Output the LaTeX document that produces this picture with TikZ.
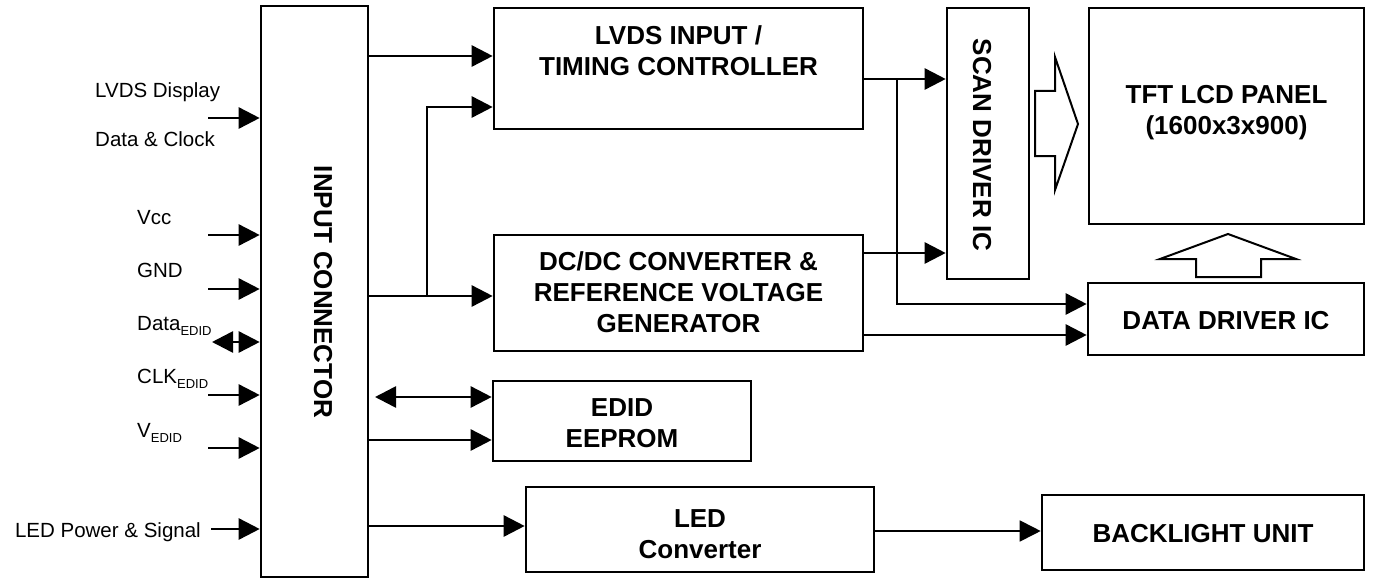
\documentclass[tikz,border=0pt]{standalone}
\usepackage{fontspec}
\setmainfont{Liberation Sans}
\usetikzlibrary{arrows.meta}
\begin{document}
\begin{tikzpicture}[x=1pt,y=-1pt, line join=miter,
 box/.style={draw, line width=2.6pt, inner sep=0pt, minimum width=#1},
 btxt/.style={inner sep=0pt, align=center, font=\fontsize{26}{31}\selectfont\bfseries},
 arr/.style={line width=2.6pt, -{Triangle[length=21pt,width=21pt]}},
 thinarr/.style={line width=1.8pt, -{Triangle[length=21pt,width=21pt]}},
 darr/.style={line width=2.6pt, {Triangle[length=21pt,width=21pt]}-{Triangle[length=21pt,width=21pt]}},
 lbl/.style={font=\fontsize{20.5}{24}\selectfont, inner sep=0pt},
 hollow/.style={draw, line width=2pt, fill=white}]
\newcommand{\subE}[1]{#1\raisebox{-5pt}{\fontsize{13}{13}\selectfont EDID}}

\useasboundingbox (0,0) rectangle (1374,578);

% boxes
\node[box=107pt, minimum height=571pt] (conn) at (314.5,291.5) {};
\node[btxt, rotate=-90] (tconn) at (323,292) {INPUT CONNECTOR};

\node[box=369pt, minimum height=121pt] (lvds) at (678.5,68.5) {};
\node[btxt] (tlvds) at (678.5,51) {LVDS INPUT /\\TIMING CONTROLLER};

\node[box=369pt, minimum height=116pt] (dcdc) at (678.5,293) {};
\node[btxt] (tdcdc) at (678.5,292) {DC/DC CONVERTER \&\\REFERENCE VOLTAGE\\GENERATOR};

\node[box=82pt, minimum height=271pt] (scan) at (988,143.5) {};
\node[btxt, rotate=-90] (tscan) at (982,145) {SCAN DRIVER IC};

\node[box=275pt, minimum height=216pt] (tft) at (1226.5,116) {};
\node[btxt] (ttft) at (1226.5,113) {TFT LCD PANEL\\(1600x3x900)};

\node[box=276pt, minimum height=72pt] (ddrv) at (1226,319) {};
\node[btxt] (tddrv) at (1226,321) {DATA DRIVER IC};

\node[box=258pt, minimum height=80pt] (edid) at (622,421) {};
\node[btxt] (tedid) at (622,423) {EDID\\EEPROM};

\node[box=348pt, minimum height=85pt] (ledc) at (700,529.5) {};
\node[btxt] (tledc) at (700,534) {LED\\Converter};

\node[box=322pt, minimum height=75pt] (backl) at (1203,532.5) {};
\node[btxt] (tbackl) at (1203,534) {BACKLIGHT UNIT};

% left labels
\node[lbl, anchor=base west] (l1) at (95,98) {LVDS Display};
\node[lbl, anchor=base west] (l2) at (95,146) {Data \& Clock};
\node[lbl, anchor=base west] (l3) at (137,224) {Vcc};
\node[lbl, anchor=base west] (l4) at (137,277) {GND};
\node[lbl, anchor=base west] (l5) at (137,330) {\subE{Data}};
\node[lbl, anchor=base west] (l6) at (137,383) {\subE{CLK}};
\node[lbl, anchor=base west] (l7) at (137,437) {\subE{V}};
\node[lbl, anchor=base east] (l8) at (201,537) {LED Power \& Signal};

% input arrow starts
\coordinate (s1) at (208,118);
\coordinate (s3) at (208,235);
\coordinate (s4) at (208,289);
\coordinate (s5) at (212,342);
\coordinate (s6) at (208,395);
\coordinate (s7) at (208,448);
\coordinate (s8) at (211,529);
\draw[arr] (s1) -- (s1 -| conn.west);
\draw[arr] (s3) -- (s3 -| conn.west);
\draw[arr] (s4) -- (s4 -| conn.west);
\draw[darr] (s5) -- (s5 -| conn.west);
\draw[arr] (s6) -- (s6 -| conn.west);
\draw[arr] (s7) -- (s7 -| conn.west);
\draw[arr] (s8) -- (s8 -| conn.west);

% connector outputs
\draw[arr] (conn.east |- 0,56) -- (lvds.west |- 0,56);
\draw[arr] (conn.east |- 0,296) -- (dcdc.west |- 0,296);
\coordinate (br1) at (427,296);
\draw[arr] (br1) -- (427,107) -- (lvds.west |- 0,107);
\coordinate (e1) at (375,397);
\draw[darr] (e1) -- (edid.west |- e1);
\draw[arr] (conn.east |- 0,440) -- (edid.west |- 0,440);
\draw[arr] (conn.east |- 0,526) -- (ledc.west |- 0,526);

% timing controller / dcdc outputs
\draw[arr] (lvds.east |- 0,79) -- (scan.west |- 0,79);
\coordinate (br2) at (897,79);
\draw[arr] (br2) -- (897,304) -- (ddrv.west |- 0,304);
\draw[arr] (dcdc.east |- 0,253) -- (scan.west |- 0,253);
\draw[arr] (dcdc.east |- 0,335) -- (ddrv.west |- 0,335);
\draw[thinarr] (ledc.east |- 0,531) -- (backl.west |- 0,531);

% hollow arrows
\draw[hollow] (1035,91) -- (1055,91) -- (1055,57) -- (1078,124) -- (1055,190) -- (1055,156) -- (1035,156) -- cycle;
\draw[hollow] (1196,277) -- (1196,259) -- (1160,259) -- (1228,234) -- (1296,259) -- (1261,259) -- (1261,277) -- cycle;
\end{tikzpicture}
\end{document}
